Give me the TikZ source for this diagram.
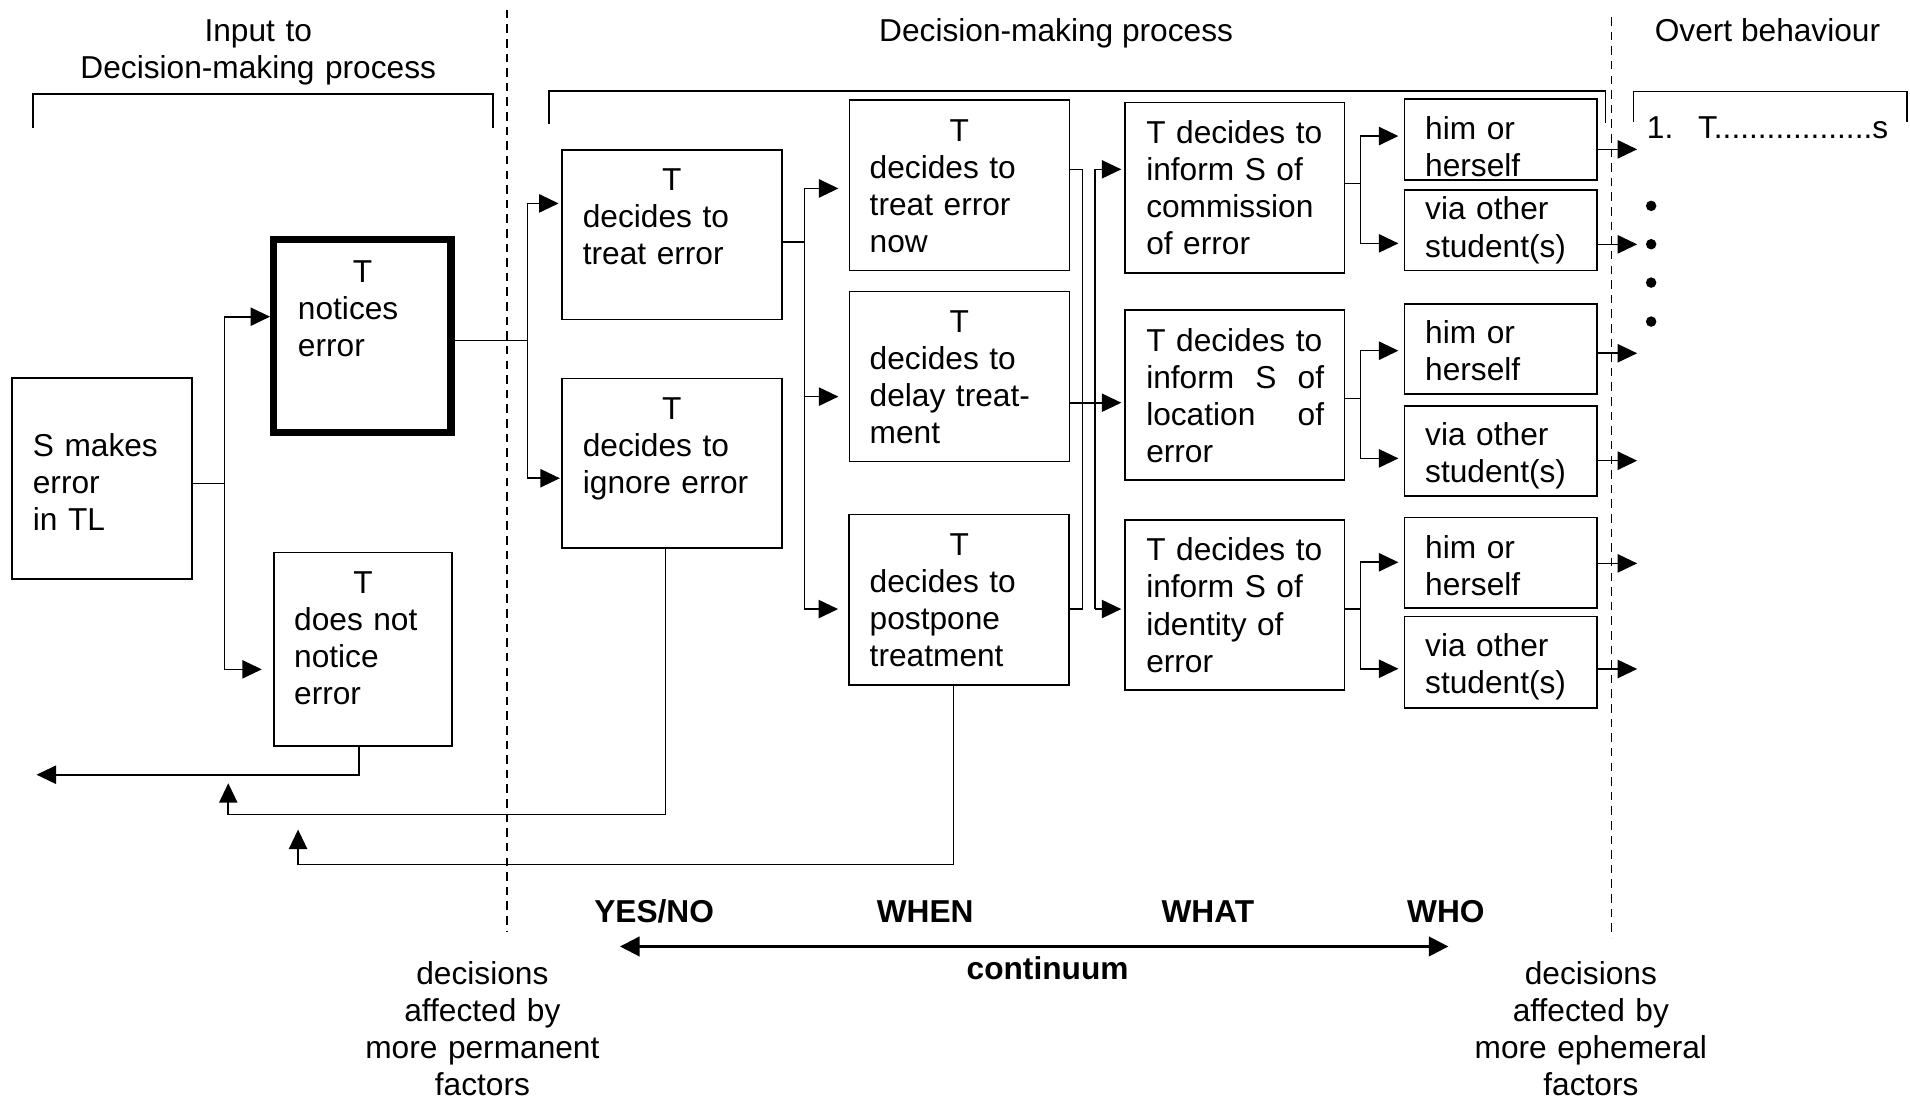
\documentclass[tikz,border=0pt]{standalone}
\usepackage{fontspec}
\setmainfont{Liberation Sans}
\usetikzlibrary{arrows.meta,calc}
\newcommand\mkcentre[1]{\makebox[\linewidth]{#1}}
\begin{document}
\begin{tikzpicture}[
  x=1pt, y=-1pt,
  font=\fontsize{26pt}{30.4pt}\selectfont,
  every node/.style={inner sep=0pt, outer sep=0pt},
  conn/.style={line width=1.3pt},
  box/.style 2 args={draw, line width=1.3pt, minimum width=#1, minimum height=#2},
  txt/.style={anchor=base west, align=left, text width=#1},
  lbl/.style={anchor=base, align=center},
  arr/.style={conn, -{Triangle[length=16pt,width=15pt]}},
  gap/.style={shorten >=#1},
  sep/.style={line width=1.3pt, dash pattern=on 7pt off 5pt},
]
\useasboundingbox (0,0) rectangle (1568,904);

% ---------- section headings ----------
\node[lbl, text width=320pt] (h-input) at (212,34) {Input to\\Decision-making process};
\node[lbl] (h-process) at (867,34) {Decision-making process};
\node[lbl] (h-overt) at (1451,34) {Overt behaviour};

% brackets under the headings
\draw[conn] (27,105) -- (27,77) -- (404.5,77) -- (404.5,105);
\draw[conn] (450.7,102) -- (450.7,74.5) -- (1318,74.5) -- (1318,101);
\draw[conn] (1341,100) -- (1341,75) -- (1565.7,75) -- (1565.7,100);

% section separators
\draw[sep] (416,8) -- (416,765);
\draw[sep] (1323,14) -- (1323,770);

% ---------- input ----------
\node[box={147.6pt}{165pt}] (smakes) at (83.8,393) {};
\node[txt=114pt] (smakes-t) at (27,375) {S makes\\error\\in TL};

\node[draw, line width=6pt, minimum width=145.6pt, minimum height=158.5pt] (notices) at (297.5,275.75) {};
\node[txt=106pt] (notices-t) at (244.6,232) {\mkcentre{T}\\notices\\error};

\node[box={146pt}{159pt}] (notnotice) at (297.9,533) {};
\node[txt=113pt] (notnotice-t) at (241.5,487) {\mkcentre{T}\\does not\\notice\\error};

% ---------- YES/NO ----------
\node[box={180.2pt}{139.1pt}] (treat) at (551.7,192.65) {};
\node[txt=146pt] (treat-t) at (478.5,156.5) {\mkcentre{T}\\decides to\\treat error};

\node[box={180.4pt}{139.4pt}] (ignore) at (551.8,380.3) {};
\node[txt=146pt] (ignore-t) at (478.5,344) {\mkcentre{T}\\decides to\\ignore error};

% ---------- WHEN ----------
\node[box={180.7pt}{140.1pt}] (now) at (787.65,152.15) {};
\node[txt=147pt] (now-t) at (714,116) {\mkcentre{T}\\decides to\\treat error\\now};

\node[box={180.7pt}{139.8pt}] (delay) at (787.65,309.1) {};
\node[txt=147pt] (delay-t) at (714,273) {\mkcentre{T}\\decides to\\delay treat-\\ment};

\node[box={180.8pt}{140.1pt}] (postpone) at (787.4,492.35) {};
\node[txt=147pt] (postpone-t) at (714,456) {\mkcentre{T}\\decides to\\postpone\\treatment};

% ---------- WHAT ----------
\node[box={180.1pt}{139.6pt}] (commission) at (1013.55,154.1) {};
\node[txt=146pt] (commission-t) at (941,118) {T decides to\\inform S of\\commission\\of error};

\node[box={180.1pt}{139.5pt}] (location) at (1013.55,324.25) {};
\node[txt=146pt] (location-t) at (941,288.5) {T decides to\\inform \hfill S \hfill of\\location \hfill of\\error};

\node[box={180.1pt}{139.5pt}] (identity) at (1013.55,496.75) {};
\node[txt=146pt] (identity-t) at (941,460.5) {T decides to\\inform S of\\identity of\\error};

% ---------- WHO ----------
\node[box={158pt}{66.5pt}] (him1) at (1232,114.75) {};
\node[txt=124pt] (him1-t) at (1170,114.5) {him or\\herself};
\node[box={158pt}{66pt}] (via1) at (1232,189) {};
\node[txt=124pt] (via1-t) at (1170,180.6) {via other\\student(s)};

\node[box={158pt}{73.9pt}] (him2) at (1232,286.55) {};
\node[txt=124pt] (him2-t) at (1170,282) {him or\\herself};
\node[box={158pt}{73.7pt}] (via2) at (1232,370.15) {};
\node[txt=124pt] (via2-t) at (1170,366) {via other\\student(s)};

\node[box={158pt}{74pt}] (him3) at (1232,462) {};
\node[txt=124pt] (him3-t) at (1170,458.5) {him or\\herself};
\node[box={158pt}{75pt}] (via3) at (1232,543.5) {};
\node[txt=124pt] (via3-t) at (1170,539) {via other\\student(s)};

% ---------- overt behaviour ----------
\node[anchor=base west] (beh1) at (1352,114) {1.\hspace{20.3pt}T..................s};
\foreach \yy in {169,200.5,232,264}
  \fill (1355.5,\yy) circle (4.3pt);

% ---------- connectors ----------
% S makes error -> notices / does not notice
\coordinate (sj) at (184.3,397);
\draw[conn] (smakes.east |- sj) -- (sj);
\draw[arr, gap=3pt] (sj) |- (notices.west |- 0,260);
\draw[arr, gap=10pt] (sj) |- (notnotice.west |- 0,549.5);

% notices -> treat / ignore
\coordinate (nj) at (433.2,279.7);
\draw[conn] (notices.east |- nj) -- (nj);
\draw[arr, gap=3pt] (nj) |- (treat.west |- 0,167);
\draw[arr, gap=2pt] (nj) |- (ignore.west |- 0,392.6);

% treat -> now / delay / postpone
\coordinate (tj) at (660.3,198.5);
\draw[conn] (treat.east |- tj) -- (tj);
\draw[arr, gap=9pt] (tj) |- (now.west |- 0,154.7);
\draw[arr, gap=9pt] (tj) |- (delay.west |- 0,325.6);
\draw[arr, gap=9pt] (tj) |- (postpone.west |- 0,500);

% WHEN -> WHAT
\coordinate (wa) at (888.8,139);
\coordinate (wb) at (888.8,500);
\draw[conn] (now.east |- wa) -- (wa) -- (wb) -- (postpone.east |- wb);
\coordinate (xa) at (899,139);
\coordinate (xb) at (899,500);
\draw[conn] (xa) -- (xb);
\draw[arr, gap=3pt] (xa) -- (commission.west |- xa);
\draw[arr, gap=3pt] (delay.east |- 0,330.6) -- (location.west |- 0,330.6);
\draw[arr, gap=3pt] (xb) -- (identity.west |- xb);

% WHAT -> WHO
\coordinate (cj) at (1117,150.5);
\draw[conn] (commission.east |- cj) -- (cj);
\draw[arr, gap=5pt] (cj) |- (him1.west |- 0,111.7);
\draw[arr, gap=5pt] (cj) |- (via1.west |- 0,199.8);

\coordinate (lj) at (1117,327);
\draw[conn] (location.east |- lj) -- (lj);
\draw[arr, gap=5pt] (lj) |- (him2.west |- 0,287.9);
\draw[arr, gap=5pt] (lj) |- (via2.west |- 0,376.3);

\coordinate (ij) at (1117,500);
\draw[conn] (identity.east |- ij) -- (ij);
\draw[arr, gap=5pt] (ij) |- (him3.west |- 0,461.6);
\draw[arr, gap=5pt] (ij) |- (via3.west |- 0,549);

% WHO -> overt behaviour
\coordinate (o1) at (1344,122.6);
\coordinate (o2) at (1344,200.6);
\coordinate (o3) at (1344,290);
\coordinate (o4) at (1344,378.2);
\coordinate (o5) at (1344,462.5);
\coordinate (o6) at (1344,549.2);
\draw[arr] (him1.east |- o1) -- (o1);
\draw[arr] (via1.east |- o2) -- (o2);
\draw[arr] (him2.east |- o3) -- (o3);
\draw[arr] (via2.east |- o4) -- (o4);
\draw[arr] (him3.east |- o5) -- (o5);
\draw[arr] (via3.east |- o6) -- (o6);

% feedback loops
\coordinate (fb0) at (30,636);
\draw[arr] (notnotice.south -| 294.5,0) |- (fb0);
\coordinate (fb1) at (187.4,643);
\draw[arr] (ignore.south -| 546.2,0) |- (187.4,668.5) -- (fb1);
\coordinate (fb2) at (244.7,681);
\draw[arr] (postpone.south -| 782.8,0) |- (244.7,709.6) -- (fb2);

% ---------- continuum ----------
\node[lbl] (yesno) at (537,757) {\textbf{YES/NO}};
\node[lbl] (when) at (759.5,757) {\textbf{WHEN}};
\node[lbl] (what) at (991.6,757) {\textbf{WHAT}};
\node[lbl] (who) at (1187,757) {\textbf{WHO}};
\coordinate (c0) at (509,777);
\coordinate (c1) at (1189,777);
\draw[line width=2pt, {Triangle[length=16pt,width=16pt]}-{Triangle[length=16pt,width=16pt]}] (c0) -- (c1);
\node[lbl] (cont) at (860,804) {\textbf{continuum}};

\node[lbl, text width=260pt] (perm) at (396,808) {decisions\\affected by\\more permanent\\factors};
\node[lbl, text width=260pt] (ephem) at (1306,808) {decisions\\affected by\\more ephemeral\\factors};
\end{tikzpicture}
\end{document}
